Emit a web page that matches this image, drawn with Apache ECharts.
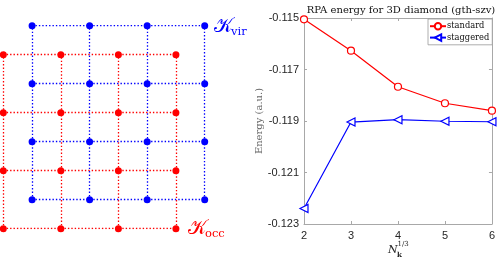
<!DOCTYPE html>
<html><head><meta charset="utf-8">
<script src="https://cdn.jsdelivr.net/npm/echarts@6/dist/echarts.min.js"></script>
<style>html,body{margin:0;padding:0;background:#fff}#c{width:498px;height:258px}</style>
</head><body><div id="c"></div>
<script>
// ---- Left diagram: k-point meshes ----
const occPos = [0, 1, 2, 3];
const virPos = [0.5, 1.5, 2.5, 3.5];
// ---- Right chart ----
const nk = [2, 3, 4, 5, 6];
const standardE = [-0.11505, -0.11627, -0.11767, -0.11831, -0.11860];
const staggeredE = [-0.12240, -0.11904, -0.11895, -0.11901, -0.11903];

const RED = '#ff0000', BLUE = '#0000ff';
function meshDots(pos){const d=[];pos.forEach(x=>pos.forEach(y=>d.push([x,y])));return d;}
function meshLines(pos){
  const lo=pos[0], hi=pos[pos.length-1], d=[];
  pos.forEach(p=>{d.push({coords:[[lo,p],[hi,p]]});d.push({coords:[[p,lo],[p,hi]]});});
  return d;
}
const chart = echarts.init(document.getElementById('c'), null, {renderer:'canvas'});
const axisGray = '#a8a8a8';
const tickText = '#262626';
const serif = 'DejaVu Serif';
function kLabel(x, y, sub, color){
  return [
    {type:'text', x:x, y:y, style:{text:'𝒦', fontFamily:serif, fontSize:20, fill:color, align:'left', verticalAlign:'middle'}},
    {type:'text', x:x+17, y:y+5, style:{text:sub, fontFamily:serif, fontSize:11.5, fill:color, align:'left', verticalAlign:'middle'}}
  ];
}
chart.setOption({
  animation:false,
  backgroundColor:'#fff',
  title:{text:'RPA energy for 3D diamond (gth-szv)', left:396, top:0, textAlign:'center',
    textStyle:{fontFamily:serif, fontWeight:'normal', fontSize:10, color:'#111'}},
  legend:{left:428, top:19, orient:'vertical', itemWidth:16, itemHeight:8, itemGap:3,
    padding:[3,3,3,1], borderColor:'#999', borderWidth:0.8, backgroundColor:'#fff',
    textStyle:{fontFamily:serif, fontSize:8.3, color:'#111', padding:[0,0,0,-4]},
    data:['standard','staggered']},
  grid:[
    {left:3.3, top:25.7, width:201.4, height:203},
    {left:304, top:18, width:190, height:206}
  ],
  xAxis:[
    {gridIndex:0, type:'value', min:0, max:3.5, show:false},
    {gridIndex:1, type:'value', min:2, max:6, interval:1, position:'bottom',
      axisLine:{lineStyle:{color:axisGray, width:1}}, axisTick:{inside:true, length:3, lineStyle:{color:axisGray}},
      axisLabel:{color:tickText, fontFamily:'Liberation Sans', fontSize:11, margin:6}, splitLine:{show:false}},
    {gridIndex:1, type:'value', min:2, max:6, interval:1, position:'top',
      axisLine:{lineStyle:{color:axisGray, width:1}}, axisTick:{inside:true, length:3, lineStyle:{color:axisGray}},
      axisLabel:{show:false}, splitLine:{show:false}}
  ],
  yAxis:[
    {gridIndex:0, type:'value', min:0, max:3.5, show:false},
    {gridIndex:1, type:'value', min:-0.123, max:-0.115, interval:0.002, position:'left',
      axisLine:{show:true, lineStyle:{color:axisGray, width:1}}, axisTick:{show:true, inside:true, length:3, lineStyle:{color:axisGray}},
      axisLabel:{color:tickText, fontFamily:'Liberation Sans', fontSize:11, margin:5, formatter:v=>v.toFixed(3)},
      splitLine:{show:false},
      name:'Energy (a.u.)', nameLocation:'middle', nameGap:38,
      nameTextStyle:{fontFamily:serif, fontSize:10, color:'#666'}},
    {gridIndex:1, type:'value', min:-0.123, max:-0.115, interval:0.002, position:'right',
      axisLine:{show:true, lineStyle:{color:axisGray, width:1}}, axisTick:{show:true, inside:true, length:3, lineStyle:{color:axisGray}},
      axisLabel:{show:false}, splitLine:{show:false}}
  ],
  graphic:[].concat(
    kLabel(214, 27, 'vir', BLUE),
    kLabel(188, 229, 'occ', RED),
    [
      {type:'text', x:388, y:250, style:{text:'N', fontFamily:serif, fontStyle:'italic', fontSize:11, fill:tickText, verticalAlign:'middle'}},
      {type:'text', x:397.5, y:244, style:{text:'1/3', fontFamily:serif, fontSize:7, fill:tickText, verticalAlign:'middle'}},
      {type:'text', x:397, y:255, style:{text:'k', fontFamily:serif, fontWeight:'bold', fontSize:7, fill:tickText, verticalAlign:'middle'}}
    ]),
  series:[
    {type:'lines', coordinateSystem:'cartesian2d', xAxisIndex:0, yAxisIndex:0, z:1, silent:true,
      lineStyle:{color:RED, width:1.3, type:[1.4,2], opacity:1}, data:meshLines(occPos)},
    {type:'lines', coordinateSystem:'cartesian2d', xAxisIndex:0, yAxisIndex:0, z:2, silent:true,
      lineStyle:{color:BLUE, width:1.3, type:[1.4,2], opacity:1}, data:meshLines(virPos)},
    {type:'scatter', xAxisIndex:0, yAxisIndex:0, symbol:'circle', symbolSize:7, z:3,
      itemStyle:{color:RED, opacity:1}, data:meshDots(occPos)},
    {type:'scatter', xAxisIndex:0, yAxisIndex:0, symbol:'circle', symbolSize:7, z:4,
      itemStyle:{color:BLUE, opacity:1}, data:meshDots(virPos)},
    {name:'standard', type:'line', xAxisIndex:1, yAxisIndex:1, symbol:'circle', symbolSize:7,
      showAllSymbol:true, lineStyle:{color:RED, width:1.2}, itemStyle:{color:'#fff', borderColor:RED, borderWidth:1.2},
      data:nk.map((x,i)=>[x, standardE[i]])},
    {name:'staggered', type:'line', xAxisIndex:1, yAxisIndex:1, symbol:'triangle', symbolRotate:90, symbolSize:8,
      showAllSymbol:true, lineStyle:{color:BLUE, width:1.2}, itemStyle:{color:'#fff', borderColor:BLUE, borderWidth:1.2},
      data:nk.map((x,i)=>[x, staggeredE[i]])}
  ]
});
</script></body></html>
